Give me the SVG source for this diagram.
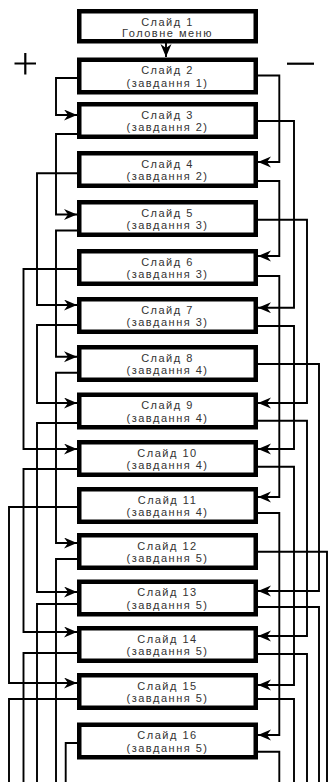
<svg xmlns="http://www.w3.org/2000/svg" width="330" height="782" viewBox="0 0 330 782">
<style>
.box rect{fill:#fff;stroke:#000;stroke-width:4.5}
.box text{font-family:"Liberation Sans",Arial,sans-serif;font-size:11px;fill:#333;text-anchor:middle;letter-spacing:1.5px}
.c{fill:none;stroke:#000;stroke-width:1.9}
.a{marker-end:url(#ah)}
.sign{stroke:#000;stroke-width:2.2;fill:none}
</style>
<defs>
<marker id="ah" markerUnits="userSpaceOnUse" markerWidth="14" markerHeight="12" refX="13" refY="5.5" orient="auto">
<path d="M0,0 L13,5.5 L0,11 L4,5.5 Z" fill="#000"/>
</marker>
</defs>
<path class="sign" d="M14.5,63.5 H36 M25.3,53 V74.5"/>
<path class="sign" d="M287,63.7 H314"/>
<g id="connectors">
<path class="c a" d="M166,43 V57"/>
<path class="c a" d="M77,78 H56 V115 H77"/>
<path class="c a" d="M77,134 H56 V214.5 H77"/>
<path class="c a" d="M77,173.3 H37 V305 H77"/>
<path class="c a" d="M77,230.5 H56 V356.7 H77"/>
<path class="c a" d="M77,269 H23.5 V449 H77"/>
<path class="c a" d="M77,325 H37 V403 H77"/>
<path class="c a" d="M77,372.7 H56 V543 H77"/>
<path class="c a" d="M77,423 H37 V592 H77"/>
<path class="c a" d="M77,469 H23.5 V632 H77"/>
<path class="c a" d="M77,507 H9 V683 H77"/>
<path class="c" d="M77,559 H56 V782"/>
<path class="c" d="M77,604 H37 V782"/>
<path class="c" d="M77,653 H23.5 V782"/>
<path class="c" d="M77,699 H9 V782"/>
<path class="c" d="M77,743 H65.7 V782"/>
<path class="c a" d="M258,75.5 H279.3 V162 H258"/>
<path class="c a" d="M258,121 H294 V307.7 H258"/>
<path class="c a" d="M258,181 H279.3 V256 H258"/>
<path class="c a" d="M258,219.7 H307 V403 H258"/>
<path class="c a" d="M258,276 H279.3 V497 H258"/>
<path class="c a" d="M258,326 H294 V449 H258"/>
<path class="c a" d="M258,364 H319 V591 H258"/>
<path class="c a" d="M258,420.7 H307 V636 H258"/>
<path class="c a" d="M258,466.7 H294 V685 H258"/>
<path class="c a" d="M258,513 H279.3 V735 H258"/>
<path class="c" d="M258,551.7 H327 V782"/>
<path class="c" d="M258,607 H319 V782"/>
<path class="c" d="M258,654 H307 V782"/>
<path class="c" d="M258,699 H294 V782"/>
<path class="c" d="M258,751.7 H279.3 V782"/>
</g>
<g id="s1" class="box"><rect x="79.25" y="11.25" width="176.5" height="30"/><text x="167.5" y="25.5">Слайд 1</text><text x="167.5" y="37">Головне меню</text></g>
<g id="s2" class="box"><rect x="79.25" y="59.75" width="176.5" height="32.5"/><text x="167.5" y="74">Слайд 2</text><text x="167.5" y="86.5">(завдання 1)</text></g>
<g id="s3" class="box"><rect x="79.25" y="104.25" width="176.5" height="32.5"/><text x="167.5" y="118.5">Слайд 3</text><text x="167.5" y="131">(завдання 2)</text></g>
<g id="s4" class="box"><rect x="79.25" y="153.25" width="176.5" height="32.5"/><text x="167.5" y="167.5">Слайд 4</text><text x="167.5" y="180">(завдання 2)</text></g>
<g id="s5" class="box"><rect x="79.25" y="202.25" width="176.5" height="32.5"/><text x="167.5" y="216.5">Слайд 5</text><text x="167.5" y="229">(завдання 3)</text></g>
<g id="s6" class="box"><rect x="79.25" y="251.25" width="176.5" height="32.5"/><text x="167.5" y="265.5">Слайд 6</text><text x="167.5" y="278">(завдання 3)</text></g>
<g id="s7" class="box"><rect x="79.25" y="299.25" width="176.5" height="32.5"/><text x="167.5" y="313.5">Слайд 7</text><text x="167.5" y="326">(завдання 3)</text></g>
<g id="s8" class="box"><rect x="79.25" y="347.25" width="176.5" height="32.5"/><text x="167.5" y="361.5">Слайд 8</text><text x="167.5" y="374">(завдання 4)</text></g>
<g id="s9" class="box"><rect x="79.25" y="394.75" width="176.5" height="32.5"/><text x="167.5" y="409">Слайд 9</text><text x="167.5" y="421.5">(завдання 4)</text></g>
<g id="s10" class="box"><rect x="79.25" y="442.25" width="176.5" height="32.5"/><text x="167.5" y="456.5">Слайд 10</text><text x="167.5" y="469">(завдання 4)</text></g>
<g id="s11" class="box"><rect x="79.25" y="489.25" width="176.5" height="32.5"/><text x="167.5" y="503.5">Слайд 11</text><text x="167.5" y="516">(завдання 4)</text></g>
<g id="s12" class="box"><rect x="79.25" y="535.25" width="176.5" height="32.5"/><text x="167.5" y="549.5">Слайд 12</text><text x="167.5" y="562">(завдання 5)</text></g>
<g id="s13" class="box"><rect x="79.25" y="581.75" width="176.5" height="32.5"/><text x="167.5" y="596">Слайд 13</text><text x="167.5" y="608.5">(завдання 5)</text></g>
<g id="s14" class="box"><rect x="79.25" y="628.25" width="176.5" height="32.5"/><text x="167.5" y="642.5">Слайд 14</text><text x="167.5" y="655">(завдання 5)</text></g>
<g id="s15" class="box"><rect x="79.25" y="675.25" width="176.5" height="32.5"/><text x="167.5" y="689.5">Слайд 15</text><text x="167.5" y="702">(завдання 5)</text></g>
<g id="s16" class="box"><rect x="79.25" y="724.75" width="176.5" height="32.5"/><text x="167.5" y="739">Слайд 16</text><text x="167.5" y="751.5">(завдання 5)</text></g>
</svg>
